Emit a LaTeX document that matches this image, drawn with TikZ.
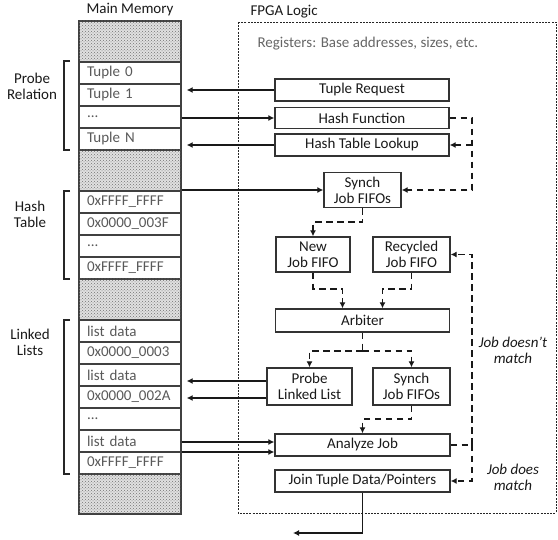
\documentclass[tikz,border=0pt]{standalone}
\usepackage{fontspec}
\setmainfont{Carlito}
\usetikzlibrary{arrows.meta,patterns,calc}
\begin{document}
\begin{tikzpicture}[x=1pt,y=-1pt,
  fnt/.style={font=\fontsize{15}{16}\selectfont},
  box/.style={draw=black!80,line width=1.3pt,inner sep=0pt,align=center,fnt,text=black!90},
  row/.style={draw=black!75,line width=1.4pt,minimum width=102pt,minimum height=22pt,inner xsep=8pt,inner ysep=0pt,text width=86pt,align=left,fnt,text=black!65},
  hatch/.style={draw=black!75,line width=1.4pt,minimum width=102pt,inner sep=0pt,fill=black!12,postaction={pattern=crosshatch dots,pattern color=black!55}},
  lbl/.style={align=center,fnt,text=black!90},
  arr/.style={line width=1.6pt,draw=black!90,-{Latex[length=6pt,width=6pt]}},
  dsh/.style={line width=1.8pt,draw=black!90,dash pattern=on 6.5pt off 4.5pt},
  darr/.style={dsh,-{Latex[length=6pt,width=6pt]}},
  brk/.style={line width=1.4pt,draw=black!85}
]
\useasboundingbox (0,0) rectangle (558,540);

% Main memory column
\node[lbl] (mmt) at (130,10) {Main Memory};
\node[hatch,minimum height=41pt] (h0) at (130,41.5) {};
\node[row] (p0) at (130,73) {Tuple 0};
\node[row] (p1) at (130,95) {Tuple 1};
\node[row] (p2) at (130,117) {...};
\node[row] (p3) at (130,139) {Tuple N};
\node[hatch,minimum height=41pt] (h1) at (130,170.5) {};
\node[row] (t0) at (130,202) {0xFFFF\_FFFF};
\node[row] (t1) at (130,224) {0x0000\_003F};
\node[row] (t2) at (130,246) {...};
\node[row] (t3) at (130,268) {0xFFFF\_FFFF};
\node[hatch,minimum height=41pt] (h2) at (130,299.5) {};
\node[row] (l0) at (130,331) {list data};
\node[row] (l1) at (130,353) {0x0000\_0003};
\node[row] (l2) at (130,375) {list data};
\node[row] (l3) at (130,397) {0x0000\_002A};
\node[row] (l4) at (130,419) {...};
\node[row] (l5) at (130,441) {list data};
\node[row] (l6) at (130,463) {0xFFFF\_FFFF};
\node[hatch,minimum height=40pt] (h3) at (130,494) {};

% brackets and group labels
\draw[brk] (70,61) -- (64,61) -- (64,150) -- (70,150);
\draw[brk] (70,191) -- (64,191) -- (64,279) -- (70,279);
\draw[brk] (70,320) -- (64,320) -- (64,474) -- (70,474);
\node[lbl] (gp) at (32,86) {Probe\\Relation};
\node[lbl] (gh) at (30,214) {Hash\\Table};
\node[lbl] (gl) at (30,342) {Linked\\Lists};

% FPGA region
\draw[line width=0.9pt,draw=black!85,dash pattern=on 2pt off 1.2pt] (238,22) rectangle (556,513);
\node[lbl,anchor=west] (fl) at (247,12) {FPGA Logic};
\node[fnt,text=black!60,anchor=west] (regs) at (254,44) {Registers: Base addresses, sizes, etc.};

% FPGA boxes
\node[box,minimum width=174pt,minimum height=22pt] (treq) at (362,90) {Tuple Request};
\node[box,minimum width=174pt,minimum height=21pt] (hfun) at (362,118) {Hash Function};
\node[box,minimum width=174pt,minimum height=22pt] (hlook) at (362,145) {Hash Table Lookup};
\node[box,minimum width=77pt,minimum height=35pt] (sync1) at (362.5,190) {Synch\\Job FIFOs};
\node[box,minimum width=74pt,minimum height=35pt] (newf) at (313,254.5) {New\\Job FIFO};
\node[box,minimum width=77pt,minimum height=35pt] (recf) at (411.5,254.5) {Recycled\\Job FIFO};
\node[box,minimum width=174pt,minimum height=23pt] (arb) at (362.5,320.5) {Arbiter};
\node[box,minimum width=85pt,minimum height=37pt] (plink) at (309.5,386.5) {Probe\\Linked List};
\node[box,minimum width=77pt,minimum height=37pt] (sync2) at (411.5,386.5) {Synch\\Job FIFOs};
\node[box,minimum width=175pt,minimum height=22pt] (anal) at (362.5,445) {Analyze Job};
\node[box,minimum width=175pt,minimum height=22pt] (join) at (362.5,481) {Join Tuple Data/Pointers};

\node[lbl,font=\fontsize{15}{16}\selectfont\itshape] (nm) at (513,350) {Job doesn't\\match};
\node[lbl,font=\fontsize{15}{16}\selectfont\itshape] (ym) at (513,477) {Job does\\match};

\coordinate (rx) at (472,0);
\coordinate (out) at (293,533);
\coordinate (pa) at ($(plink.west)+(0,-5.5)$);
\coordinate (pb) at ($(plink.west)+(0,11.5)$);
\coordinate (aa) at ($(anal.west)+(0,-3)$);
\coordinate (ab) at ($(anal.west)+(0,7)$);

% solid connectors
\draw[arr] (treq.west) -- ([xshift=5pt]treq.west -| p1.east);
\draw[arr] (p2.east |- hfun.west) -- (hfun.west);
\draw[arr] (hlook.west) -- ([xshift=5pt]hlook.west -| p3.east);
\draw[arr] (t0.east |- sync1.west) -- (sync1.west);
\draw[arr] (pa) -- ([xshift=5pt]pa -| l2.east);
\draw[arr] (pb) -- ([xshift=5pt]pb -| l3.east);
\draw[arr] (aa -| l5.east) -- (aa);
\draw[arr] (ab -| l5.east) -- (ab);
\draw[arr] (join.south) |- (out);

% dashed connectors
\draw[darr] (hfun.east) -- (hfun.east -| rx) |- (sync1.east);
\draw[darr] (hlook.east -| rx) -- (hlook.east);
\draw[darr] (sync1.south) -- ++(0,14) -| (newf.north);
\draw[darr] (newf.south) -- ++(0,16) -| ([xshift=-20pt]arb.north);
\draw[darr] (recf.south) -- ++(0,16) -| ([xshift=20pt]arb.north);
\draw[dsh] (arb.south) -- ++(0,18) coordinate (sp);
\draw[darr] (sp) -| (plink.north);
\draw[darr] (sp) -| (sync2.north);
\draw[darr] (sync2.south) -- ++(0,13.5) -| (anal.north);
\draw[dsh] (anal.east) -- (anal.east -| rx);
\draw[darr] (anal.east -| rx) |- (recf.east);
\draw[darr] (anal.east -| rx) |- (join.east);
\end{tikzpicture}
\end{document}
